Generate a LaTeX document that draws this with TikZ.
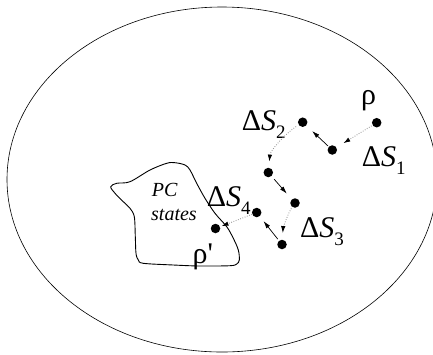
\documentclass[tikz,border=0pt]{standalone}
\usepackage{fontspec}
\setmainfont{Liberation Serif}
\usetikzlibrary{arrows.meta}
\newcommand\lblfont{\fontsize{30}{30}\selectfont}
\newcommand\sbs[1]{\raisebox{-8pt}{\fontsize{19}{19}\selectfont #1}}
\begin{document}
\begin{tikzpicture}[x=1pt,y=-1pt,
  dot/.style={circle,fill=black,inner sep=0pt,minimum size=9.5pt},
  lab/.style={anchor=base west,inner sep=0pt,font=\lblfont},
  pctext/.style={anchor=base west,inner sep=0pt,font=\fontsize{20}{20}\selectfont\itshape},
  arr/.style={-{Latex[length=7.5pt,width=4.5pt]},line width=0.7pt},
  dotarr/.style={line width=0.9pt,draw=gray!80,dash pattern=on 0.8pt off 1.6pt,
     arrows={-{Latex[length=7pt,width=4.5pt,color=black]}}}]
\useasboundingbox (0,0) rectangle (433,354);
% outer ellipse
\draw[line width=0.6pt] (222,179.5) ellipse [x radius=215, y radius=172.5];
% PC states region
\draw[line width=0.9pt] plot[smooth cycle,tension=0.55] coordinates {
 (110.7,186.7) (116.7,183.3) (130,181.7) (150,170) (166.7,163.3) (175,162.7)
 (185,165) (190,170) (196.7,183.3) (205,198.3) (215,213.3) (226.7,226.7)
 (233.3,238.3) (238.3,250) (239.3,260) (236.7,264) (230,265.7) (200,266)
 (173.3,265) (143.3,263.3) (138.3,260) (136,253.3) (135.3,236.7) (134.3,216.7)
 (130,208.3) (123.3,201.7) (115,193.3)};
\node[pctext] (pc) at (151.7,196.7) {PC};
\node[pctext] (st) at (151,220.7) {states};
% dots
\node[dot] (r)  at (376.7,122.7) {};
\node[dot] (d1) at (332.3,150) {};
\node[dot] (d2) at (302.7,122.2) {};
\node[dot] (d3) at (268.3,172.5) {};
\node[dot] (d4) at (295,203) {};
\node[dot] (d5) at (282,244.5) {};
\node[dot] (d6) at (256.7,212.5) {};
\node[dot] (rp) at (215.5,228.5) {};
% labels
\node[lab] (lr)  at (361,104) {ρ};
\node[lab] (ls1) at (361.7,166) {Δ\textit{S}\sbs{1}};
\node[lab] (ls2) at (241.7,130) {Δ\textit{S}\sbs{2}};
\node[lab] (ls3) at (300,237.5) {Δ\textit{S}\sbs{3}};
\node[lab] (ls4) at (206.7,206) {Δ\textit{S}\sbs{4}};
\node[lab] (lrp) at (192.5,263) {ρ\textquotesingle};
% connectors
\draw[dotarr,shorten <=1pt,shorten >=8pt] (r) -- (d1);
\draw[arr,shorten <=1pt,shorten >=8pt] (d1) -- (d2);
\draw[dotarr,shorten <=3pt,shorten >=6pt] (d2) .. controls +(-18,12) and +(2,-22) .. (d3);
\draw[arr,shorten <=4pt,shorten >=7.5pt] (d3) -- (d4);
\draw[dotarr,shorten <=1.5pt,shorten >=6.5pt] (d4) .. controls +(-8,12) and +(1,-15) .. (d5);
\draw[arr,shorten <=2pt,shorten >=6pt] (d5) -- (d6);
\draw[dotarr,shorten <=0pt,shorten >=1.5pt] (d6) -- (rp);
\end{tikzpicture}
\end{document}
